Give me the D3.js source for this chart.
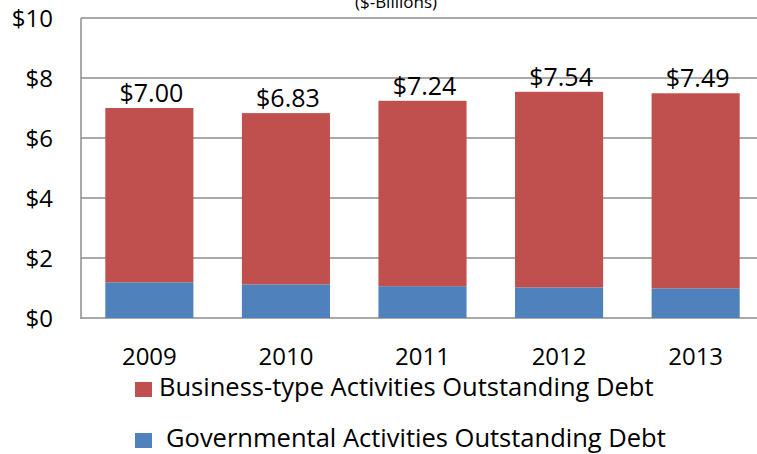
<!DOCTYPE html>
<html>
<head>
<meta charset="utf-8">
<script src="https://cdn.jsdelivr.net/npm/d3@7"></script>
<style>
  body { margin: 0; background: #fff; }
  svg { display: block; font-family: "Open Sans", sans-serif; }
</style>
</head>
<body>
<div id="chart"></div>
<script>
const width = 757;
const height = 454;

const years = ["2009", "2010", "2011", "2012", "2013"];
const totals = [7.00, 6.83, 7.24, 7.54, 7.49];
const governmental = [1.19, 1.12, 1.06, 1.02, 0.99];
const business = [5.81, 5.71, 6.18, 6.52, 6.50];
const yTicks = [0, 2, 4, 6, 8, 10];
const seriesNames = ["Business-type Activities Outstanding Debt", "Governmental Activities Outstanding Debt"];
const colors = ["#C0504D", "#4F81BD"];

const margin = { top: 18, left: 81, bottom: 136, right: -7 };

const svg = d3.select("#chart")
    .append("svg")
    .attr("width", width)
    .attr("height", height);

const x = d3.scaleBand()
    .domain(years)
    .range([margin.left, width - margin.right])
    .paddingInner(0.355)
    .paddingOuter(0.178);

const y = d3.scaleLinear()
    .domain([0, 10])
    .range([height - margin.bottom, margin.top]);

// title, mostly cropped off the top (as in the source)
svg.append("text")
    .attr("x", 396)
    .attr("y", 8)
    .attr("text-anchor", "middle")
    .style("font-size", "17px")
    .attr("fill", "#000")
    .text("($-Billions)");

// gridlines
svg.append("g")
    .selectAll("line")
    .data(yTicks)
    .enter().append("line")
    .attr("x1", margin.left)
    .attr("x2", width)
    .attr("y1", (d) => y(d))
    .attr("y2", (d) => y(d))
    .attr("stroke", "#8c8c8c")
    .attr("stroke-width", 1.5);

svg.append("line")
    .attr("x1", margin.left)
    .attr("x2", margin.left)
    .attr("y1", y(10))
    .attr("y2", y(0) + 1)
    .attr("stroke", "#8c8c8c")
    .attr("stroke-width", 1.5);

// y tick labels
svg.append("g")
    .selectAll("text")
    .data(yTicks)
    .enter().append("text")
    .attr("x", 53)
    .attr("y", (d) => y(d) + 9)
    .attr("text-anchor", "end")
    .style("font-size", "24px")
    .text((d) => "$" + d);

// stacked bars
const rows = years.map((yr, i) => ({ year: yr, gov: governmental[i], bus: business[i] }));
const stack = d3.stack().keys(["gov", "bus"])(rows);
const fillFor = { gov: colors[1], bus: colors[0] };

stack.forEach((layer) => {
    svg.append("g")
        .selectAll("rect")
        .data(layer)
        .enter().append("rect")
        .attr("x", (d) => x(d.data.year))
        .attr("width", x.bandwidth())
        .attr("y", (d) => y(d[1]))
        .attr("height", (d) => y(d[0]) - y(d[1]))
        .attr("fill", fillFor[layer.key]);
});

// total labels
svg.append("g")
    .selectAll("text")
    .data(years)
    .enter().append("text")
    .attr("x", (d) => x(d) + x.bandwidth() / 2 + 2)
    .attr("y", (d, i) => y(totals[i]) - 6)
    .attr("text-anchor", "middle")
    .style("font-size", "25px")
    .text((d, i) => "$" + totals[i].toFixed(2));

// x labels
svg.append("g")
    .selectAll("text")
    .data(years)
    .enter().append("text")
    .attr("x", (d) => x(d) + x.bandwidth() / 2)
    .attr("y", 365)
    .attr("text-anchor", "middle")
    .style("font-size", "24px")
    .text((d) => d);

// legend
const legend = svg.append("g")
    .selectAll("g")
    .data(seriesNames)
    .enter().append("g")
    .attr("transform", (d, i) => "translate(135," + (382 + i * 51) + ")");

legend.append("rect")
    .attr("width", 17)
    .attr("height", 15)
    .attr("fill", (d, i) => colors[i]);

legend.append("text")
    .attr("x", (d, i) => i === 0 ? 24 : 31)
    .attr("y", 14)
    .style("font-size", "25.5px")
    .text((d) => d);
</script>
</body>
</html>
